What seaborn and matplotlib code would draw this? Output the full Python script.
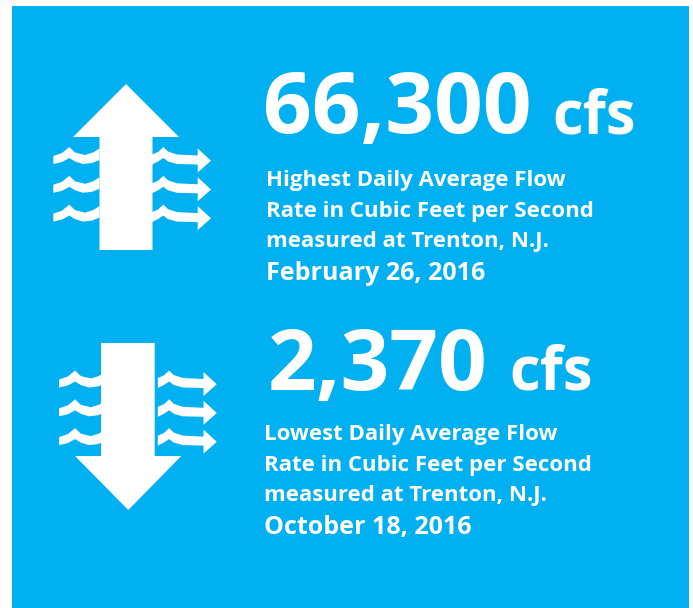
import matplotlib
matplotlib.use('Agg')
import matplotlib.pyplot as plt
import seaborn as sns
from matplotlib.patches import Polygon

BLUE = '#00B0F0'

values = ['66,300', '2,370']
unit = 'cfs'
captions = [
    ['Highest Daily Average Flow', 'Rate in Cubic Feet per Second', 'measured at Trenton, N.J.'],
    ['Lowest Daily Average Flow', 'Rate in Cubic Feet per Second', 'measured at Trenton, N.J.'],
]
dates = ['February 26, 2016', 'October 18, 2016']

sns.set_theme(style='white')
plt.rcParams['font.family'] = ['Open Sans', 'DejaVu Sans']

LEFT_WAVE = [(53.3, 156), (62, 153), (69.3, 147), (75, 152.5), (85, 155), (93, 152.5), (99.5, 148.5),
             (99.5, 160), (92, 163), (83, 164), (75, 161.5), (69.3, 158), (62, 162), (53.3, 164)]
RIGHT_WAVE = [(152, 154.5), (158, 152), (163.3, 147), (168, 151.5), (177, 154.5), (197.7, 155.5),
              (197.7, 148.5), (211, 160.7), (197.7, 172.5), (197.7, 164.5), (177, 164), (168, 161.5),
              (163.3, 158), (158, 161.5), (152, 164.5)]


def draw_waves(ax, dx, dy):
    for row in range(3):
        for shape in (LEFT_WAVE, RIGHT_WAVE):
            pts = [(x + dx, y + dy + row * 28.8) for x, y in shape]
            ax.add_patch(Polygon(pts, closed=True, fc='white', ec='none', zorder=2))


def draw_block(ax, i, y_value, x_value, x_unit, x_cap, y_cap, y_date, x_date):
    ax.text(x_value, y_value, values[i], color='white', fontsize=BIG, fontweight='bold', va='baseline')
    ax.text(x_unit, y_value, unit, color='white', fontsize=UNIT, fontweight='bold', va='baseline')
    for k, line in enumerate(captions[i]):
        ax.text(x_cap, y_cap + k * 30.5, line, color='white', fontsize=CAP, fontweight='bold', va='baseline')
    ax.text(x_date, y_date, dates[i], color='white', fontsize=DATE, fontweight='bold', va='baseline')


BIG = 61.5
UNIT = 43
CAP = 16
DATE = 18

fig = plt.figure(figsize=(6.93, 6.08), dpi=100)
ax = fig.add_axes([0, 0, 1, 1])
ax.set_xlim(0, 693)
ax.set_ylim(608, 0)
ax.axis('off')

ax.add_patch(plt.Rectangle((12, 6), 677, 602, fc=BLUE, ec='none', zorder=0))

# up arrow
ax.add_patch(Polygon([(99.5, 137), (73, 137), (126, 84), (179, 137), (152.5, 137), (152.5, 250), (99.5, 250)],
                     closed=True, fc='white', ec='none', zorder=3))
draw_waves(ax, 0, 0)

# down arrow
ax.add_patch(Polygon([(101, 343), (154.7, 343), (154.7, 456), (181.3, 456), (128.3, 510), (75, 456), (101, 456)],
                     closed=True, fc='white', ec='none', zorder=3))
draw_waves(ax, 5.8, 223.5)

draw_block(ax, 0, 133, 263, 552, 266, 186, 280, 266)
draw_block(ax, 1, 390, 268, 509, 264, 440, 534, 264)

fig.savefig('out.png', dpi=100)
